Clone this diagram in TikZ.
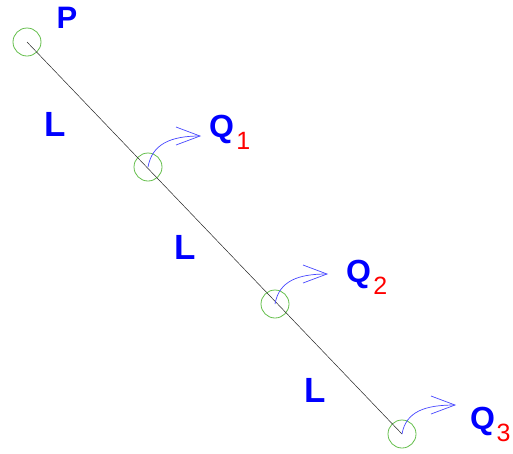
\documentclass[tikz,border=0pt]{standalone}
\usepackage{fontspec}
\setmainfont{Liberation Sans}
\usetikzlibrary{arrows.meta,positioning}
\definecolor{ptgreen}{RGB}{100,190,75}
\definecolor{rotblue}{RGB}{70,70,255}

\begin{document}
\begin{tikzpicture}[
    x=1pt, y=-1pt,
    pt/.style={draw=ptgreen, circle, minimum size=28pt, inner sep=0pt,
               line width=0.8pt},
    seg/.style={draw=black!85, line width=0.5pt},
    lbl/.style={text=blue, font=\bfseries\fontsize{31}{34}\selectfont,
                inner sep=0pt},
    len/.style={text=blue, font=\bfseries\fontsize{35}{38}\selectfont,
                inner sep=0pt},
    qlbl/.style={text=blue, font=\bfseries\fontsize{32}{34}\selectfont,
                 inner sep=0pt, anchor=base west},
    idx/.style={text=red, font=\fontsize{25}{28}\selectfont, inner sep=0pt},
    rot/.style={-{Straight Barb[length=24pt,width=18pt]}, draw=rotblue,
                line width=0.7pt}
]
\useasboundingbox (0,0) rectangle (513,453);
% Points along the bar
\node[pt] (p)  at (27,42) {};
\node[pt] (q1) at (148,167) {};
\node[pt] (q2) at (275,304) {};
\node[pt] (q3) at (402,434) {};
\draw[seg] (p.center) -- (q3.center);
% Labels
\node[lbl] (plbl) at (67,18) {P};
\node[len] (l1) at (55,124) {L};
\node[len] (l2) at (185,247) {L};
\node[len] (l3) at (315,390) {L};
\node[qlbl] (q1lbl) at (209,137) {Q};
\node[idx, right=2pt of q1lbl.base east, anchor=base west, yshift=-12pt] (q1idx) {1};
\node[qlbl] (q2lbl) at (346,282) {Q};
\node[idx, right=2pt of q2lbl.base east, anchor=base west, yshift=-12pt] (q2idx) {2};
\node[qlbl] (q3lbl) at (470,429) {Q};
\node[idx, right=1pt of q3lbl.base east, anchor=base west, yshift=-12pt] (q3idx) {3};
% Rotation arrows
\coordinate (t1) at (201,136);
\coordinate (t2) at (328,274);
\coordinate (t3) at (456,405);
\draw[rot] (q1.center) .. controls +(4,-23) and +(-30,0) .. (t1);
\draw[rot] (q2.center) .. controls +(4,-23) and +(-30,0) .. (t2);
\draw[rot] (q3.center) .. controls +(4,-23) and +(-30,0) .. (t3);
\end{tikzpicture}
\end{document}
